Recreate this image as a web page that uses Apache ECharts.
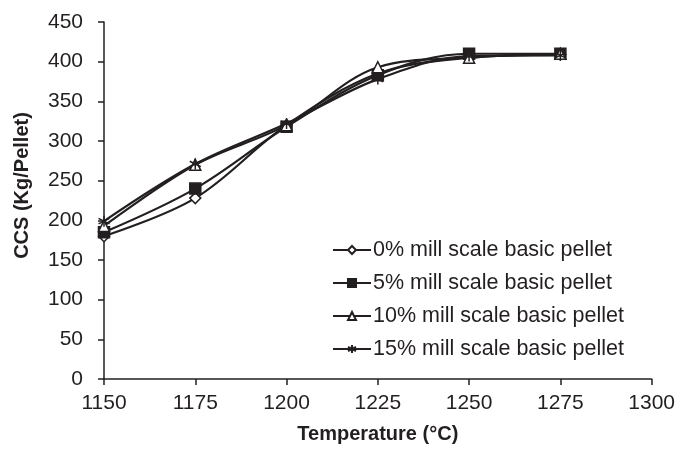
<!DOCTYPE html>
<html>
<head>
<meta charset="utf-8">
<script src="https://cdn.jsdelivr.net/npm/echarts@6/dist/echarts.min.js"></script>
<style>
  html, body { margin: 0; padding: 0; background: #fff; }
  #chart { width: 678px; height: 449px; }
</style>
</head>
<body>
<div id="chart"></div>
<script>
// Firing temperature (°C)
const temperatures = [1150, 1175, 1200, 1225, 1250, 1275];

// Cold crushing strength (Kg/Pellet) for each mill scale addition
const ccs0 = [180, 228, 320, 385, 405, 409];
const ccs5 = [185, 240, 318, 383, 410, 410];
const ccs10 = [193, 270, 320, 393, 405, 410];
const ccs15 = [199, 271, 322, 378, 407, 408];

const seriesNames = [
  '0% mill scale basic pellet',
  '5% mill scale basic pellet',
  '10% mill scale basic pellet',
  '15% mill scale basic pellet'
];

const ink = '#231f20';
const font = 'Liberation Sans, Arial, sans-serif';
const asterisk = 'path://M0,-5L0,5M-4.33,-2.5L4.33,2.5M-4.33,2.5L4.33,-2.5';

function pairs(values) {
  return temperatures.map((t, i) => [t, values[i]]);
}

function makeSeries(name, values, symbol, size, fill) {
  return {
    name: name,
    type: 'line',
    data: pairs(values),
    smooth: 0.35,
    symbol: symbol,
    symbolSize: size,
    showAllSymbol: true,
    lineStyle: { color: ink, width: 2.2 },
    itemStyle: { color: fill, borderColor: ink, borderWidth: 1.5 },
    emphasis: { disabled: true },
    z: 3
  };
}

const chart = echarts.init(document.getElementById('chart'), null, { renderer: 'canvas' });

chart.setOption({
  animation: false,
  backgroundColor: '#ffffff',
  grid: { left: 104, right: 26, top: 22, bottom: 69, containLabel: false },
  xAxis: {
    type: 'value',
    min: 1150,
    max: 1300,
    interval: 25,
    name: 'Temperature (°C)',
    nameLocation: 'middle',
    nameGap: 45,
    nameTextStyle: { fontFamily: font, fontSize: 20, fontWeight: 'bold', color: ink },
    axisLine: { lineStyle: { color: ink, width: 1.5 } },
    axisTick: { inside: false, length: 6, lineStyle: { color: ink, width: 1.5 } },
    axisLabel: {
      fontFamily: font, fontSize: 21, color: ink, margin: 14,
      formatter: (v) => String(v)
    },
    splitLine: { show: false }
  },
  yAxis: {
    type: 'value',
    min: 0,
    max: 450,
    interval: 50,
    name: 'CCS (Kg/Pellet)',
    nameLocation: 'middle',
    nameGap: 72,
    nameTextStyle: {
      fontFamily: font, fontSize: 20, fontWeight: 'bold', color: ink,
      padding: [0, 0, 0, 30]
    },
    axisLine: { show: true, lineStyle: { color: ink, width: 1.5 } },
    axisTick: { show: true, inside: false, length: 6, lineStyle: { color: ink, width: 1.5 } },
    axisLabel: { fontFamily: font, fontSize: 21, color: ink, margin: 21 },
    splitLine: { show: false }
  },
  legend: {
    orient: 'vertical',
    left: 327,
    top: 234,
    itemWidth: 38,
    itemHeight: 10,
    itemGap: 11,
    textStyle: { fontFamily: font, fontSize: 21.5, color: ink, padding: [0, 0, 0, -3] },
    data: seriesNames
  },
  series: [
    makeSeries(seriesNames[0], ccs0, 'diamond', 11, '#ffffff'),
    makeSeries(seriesNames[1], ccs5, 'rect', 11, ink),
    makeSeries(seriesNames[2], ccs10, 'triangle', 11, '#ffffff'),
    makeSeries(seriesNames[3], ccs15, asterisk, 11, '#ffffff')
  ]
});
</script>
</body>
</html>
